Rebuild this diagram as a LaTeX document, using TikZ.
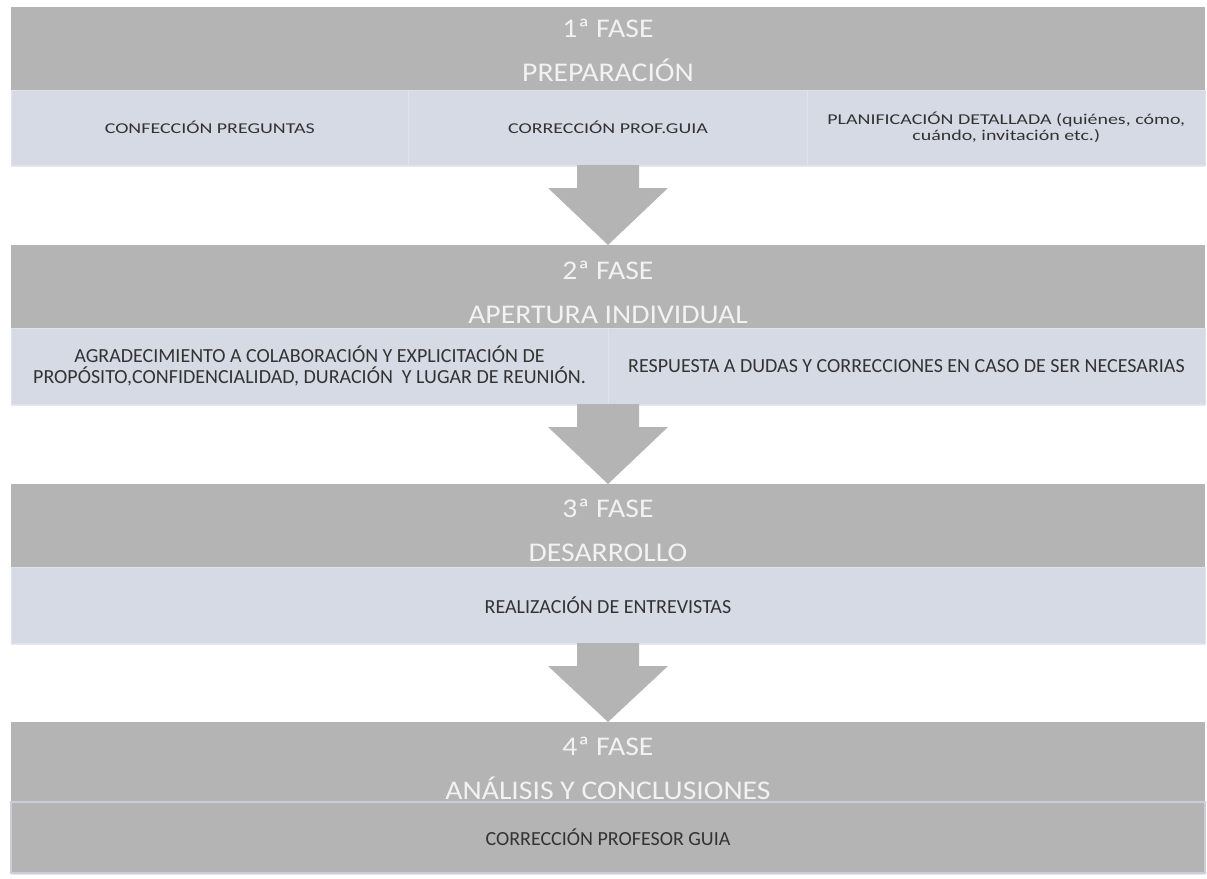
\documentclass[tikz,border=0pt]{standalone}
\usepackage{fontspec}
\setmainfont{Carlito}
\newfontfamily\headfont[FakeStretch=1.1]{Carlito}
\newfontfamily\widecellfont[FakeStretch=1.33]{Carlito}
\usetikzlibrary{positioning,calc,shadows}

\definecolor{phasegray}{HTML}{B4B4B4}
\definecolor{cellblue}{HTML}{D5DAE5}
\definecolor{celledge}{HTML}{DFE3EB}
\definecolor{stripeblue}{HTML}{C9CED9}

\tikzset{
  phasebox/.style={rectangle, fill=phasegray, minimum width=1194pt, minimum height=83pt, inner sep=0pt, outer sep=0pt},
  phasetitle/.style={text=white!95!black, font=\headfont\fontsize{27pt}{44pt}\selectfont, align=center, inner sep=0pt},
  cell/.style={rectangle, fill=cellblue, draw=celledge, line width=0.5pt, minimum height=76pt, inner sep=0pt, outer sep=0pt,
    align=center, text=black!80, font=\fontsize{20pt}{21pt}\selectfont,
    drop shadow={shadow xshift=0pt, shadow yshift=-2pt, opacity=0.18}},
  smallcell/.style={cell, minimum height=75pt, font=\widecellfont\fontsize{15pt}{16pt}\selectfont},
  lastcell/.style={cell, fill=phasegray, draw=stripeblue, line width=2pt},
  blockarrow/.style={fill=phasegray}
}

% block arrow from the bottom of a row (#1) down to the top of the next phase (#2)
\newcommand{\phasearrow}[2]{%
  \fill[blockarrow] ($(#1)+(-31,0)$) -- ($(#1)+(31,0)$) -- ($(#1)+(31,23)$) -- ($(#1)+(60,23)$)
    -- (#2.north) -- ($(#1)+(-60,23)$) -- ($(#1)+(-31,23)$) -- cycle;}

\begin{document}
\begin{tikzpicture}[x=1pt,y=-1pt]
  \def\rowwidth{1194pt}
  \def\thirdwidth{397.5pt}
  \def\halfwidth{597pt}

  \useasboundingbox (0,0) rectangle (1207,878);

  % 1a fase
  \node[phasebox] (h1) at (608,48.5) {};
  \node[phasetitle] (t1) at ([yshift=-1.5pt]h1.center) {1ª FASE\\PREPARACIÓN};
  \node[smallcell, minimum width=399pt, below=0pt of h1] (d1b) {CORRECCIÓN PROF.GUIA};
  \node[smallcell, minimum width=\thirdwidth, left=0pt of d1b] (d1a) {CONFECCIÓN PREGUNTAS};
  \node[smallcell, minimum width=\thirdwidth, right=0pt of d1b] (d1c) {PLANIFICACIÓN DETALLADA (quiénes, cómo,\\cuándo, invitación etc.)};
  \coordinate (a1) at (h1 |- d1b.south);

  % 2a fase
  \node[phasebox, below=80pt of a1] (h2) {};
  \node[phasetitle] (t2) at ([yshift=-6pt]h2.center) {2ª FASE\\APERTURA INDIVIDUAL};
  \node[cell, minimum width=\halfwidth, anchor=north east] (d2a) at (h2.south) {AGRADECIMIENTO A COLABORACIÓN Y EXPLICITACIÓN DE\\PROPÓSITO,CONFIDENCIALIDAD, DURACIÓN\ \ Y LUGAR DE REUNIÓN.};
  \node[cell, minimum width=\halfwidth, anchor=north west] (d2b) at (h2.south) {RESPUESTA A DUDAS Y CORRECCIONES EN CASO DE SER NECESARIAS};
  \coordinate (a2) at (h2 |- d2a.south);

  % 3a fase
  \node[phasebox, below=80pt of a2] (h3) {};
  \node[phasetitle] (t3) at ([yshift=-4.5pt]h3.center) {3ª FASE\\DESARROLLO};
  \node[cell, minimum width=\rowwidth, below=0pt of h3] (d3) {REALIZACIÓN DE ENTREVISTAS};
  \coordinate (a3) at (h3 |- d3.south);

  % 4a fase
  \node[phasebox, minimum height=80pt, below=79pt of a3] (h4) {};
  \node[phasetitle] (t4) at ([yshift=-6pt]h4.center) {4ª FASE\\ANÁLISIS Y CONCLUSIONES};
  \node[lastcell, minimum width=\rowwidth, minimum height=71pt, below=0pt of h4] (d4) {CORRECCIÓN PROFESOR GUIA};

  % flechas entre fases
  \phasearrow{a1}{h2}
  \phasearrow{a2}{h3}
  \phasearrow{a3}{h4}
\end{tikzpicture}
\end{document}
